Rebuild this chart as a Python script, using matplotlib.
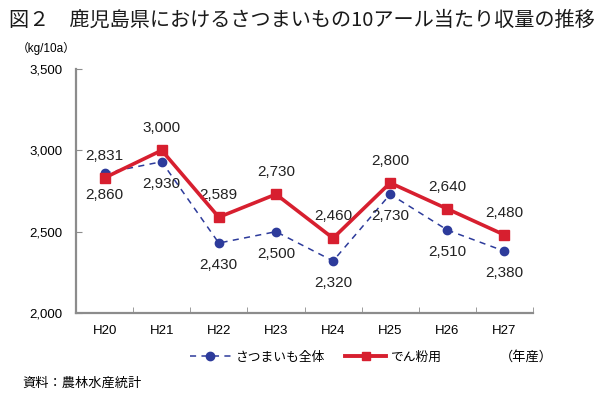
"""Recreate the Kagoshima sweet potato yield chart."""

import matplotlib
matplotlib.use("Agg")
import matplotlib.pyplot as plt
from matplotlib.lines import Line2D
from matplotlib.ticker import FuncFormatter

plt.rcParams["font.family"] = ["Liberation Sans", "Noto Sans CJK JP", "DejaVu Sans"]

# Data
years = ["H20", "H21", "H22", "H23", "H24", "H25", "H26", "H27"]
total_yield = [2860, 2930, 2430, 2500, 2320, 2730, 2510, 2380]    # さつまいも全体
starch_yield = [2831, 3000, 2589, 2730, 2460, 2800, 2640, 2480]   # でん粉用
y_ticks = [2000, 2500, 3000, 3500]

BLUE = "#2d3b9b"
RED = "#d71f2f"
GRAY = "#8c8c8c"
CJK = ["Noto Sans CJK JP", "DejaVu Sans"]

fig = plt.figure(figsize=(6.05, 3.98), dpi=100)
ax = fig.add_axes([76 / 605, 1 - 313 / 398, 457 / 605, 244 / 398])

x = list(range(len(years)))

ax.plot(x, total_yield, color=BLUE, linestyle=(0, (4, 3.5)), linewidth=1.1,
        marker="o", markersize=6, zorder=3)
ax.plot(x, starch_yield, color=RED, linewidth=2.6,
        marker="s", markersize=7, zorder=4)

# Data labels: red above, blue below
for xi, v in zip(x, starch_yield):
    ax.annotate(f"{v:,}", (xi, v), xytext=(0, 16), textcoords="offset points",
                ha="center", va="center", fontsize=11, color="#222222")
for xi, v in zip(x, total_yield):
    ax.annotate(f"{v:,}", (xi, v), xytext=(0, -16), textcoords="offset points",
                ha="center", va="center", fontsize=11, color="#222222")

# Axes styling
ax.set_xlim(-0.5, 7.5)
ax.set_ylim(2000, 3500)
ax.set_yticks(y_ticks)
ax.yaxis.set_major_formatter(FuncFormatter(lambda v, p: f"{int(v):,}"))
ax.set_xticks(x)
ax.set_xticklabels(years)
ax.set_xticks([i + 0.5 for i in x], minor=True)

for side in ["top", "right"]:
    ax.spines[side].set_visible(False)
for side in ["left", "bottom"]:
    ax.spines[side].set_color(GRAY)
    ax.spines[side].set_linewidth(1.6)

ax.tick_params(axis="x", which="major", length=0, pad=9, labelsize=9.5)
ax.tick_params(axis="x", which="minor", direction="in", length=4, color=GRAY)
ax.tick_params(axis="y", direction="in", length=4, color=GRAY, pad=10, labelsize=9.5)

# Texts
fig.text(9 / 605, 1 - 20 / 398,
         "図２　鹿児島県におけるさつまいもの10アール当たり収量の推移",
         fontsize=14.5, fontweight="normal", va="center", ha="left",
         family=CJK, color="#1a1a1a")
fig.text(46 / 605, 1 - 48 / 398, "（kg/10a）", fontsize=8.5, ha="center", va="center")
fig.text(526 / 605, 1 - 357 / 398, "（年産）", fontsize=9.5, ha="center", va="center",
         family=CJK)
fig.text(22 / 605, 1 - 383 / 398, "資料：農林水産統計", fontsize=9.5, ha="left",
         va="center", family=CJK)

# Legend
handles = [
    Line2D([], [], color=BLUE, linestyle=(0, (4, 3.5)), linewidth=1.1,
           marker="o", markersize=6),
    Line2D([], [], color=RED, linewidth=2.8, marker="s", markersize=6),
]
fig.legend(handles, ["さつまいも全体", "でん粉用"], loc="center",
           bbox_to_anchor=(316 / 605, 1 - 357 / 398), ncol=2, frameon=False,
           handlelength=3.2, handletextpad=0.4, columnspacing=1.6,
           prop={"family": CJK, "size": 9.2})

fig.savefig("out.png", dpi=100)
plt.close(fig)
